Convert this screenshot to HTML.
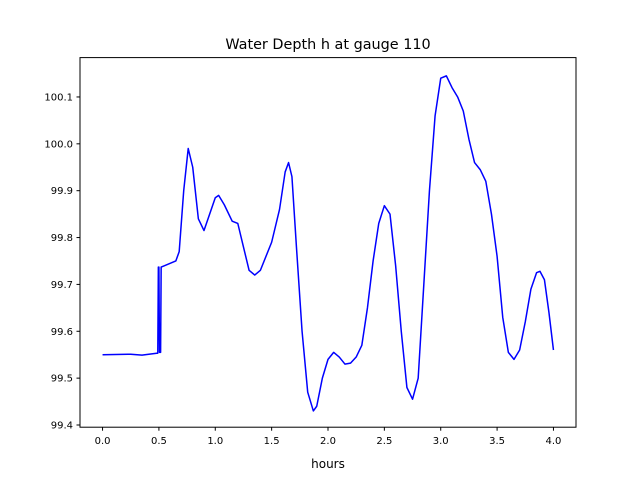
<!DOCTYPE html>
<html><head><meta charset="utf-8"><style>
body{margin:0;background:#fff;}
svg{display:block;font-family:"DejaVu Sans","Liberation Sans",sans-serif;}
</style></head><body>
<svg id="chart" width="640" height="480" viewBox="0 0 640 480">
<rect width="640" height="480" fill="#fff"/>
<text x="328" y="49" font-size="14.4" text-anchor="middle">Water Depth h at gauge 110</text>
<g id="plot"></g>
<rect x="80" y="57.6" width="496" height="369.6" fill="none" stroke="#000" stroke-width="1"/>
<text x="328" y="468" font-size="12" text-anchor="middle">hours</text>
</svg>
<script>
const hours=[0,0.25,0.35,0.48,0.49,0.495,0.50,0.505,0.515,0.52,0.55,0.65,0.68,0.72,0.76,0.8,0.85,0.9,0.95,1.0,1.03,1.08,1.15,1.2,1.25,1.3,1.35,1.4,1.5,1.57,1.62,1.65,1.68,1.72,1.77,1.82,1.87,1.9,1.95,2.0,2.05,2.1,2.15,2.2,2.25,2.3,2.35,2.4,2.45,2.5,2.55,2.6,2.65,2.7,2.75,2.8,2.85,2.9,2.95,3.0,3.05,3.1,3.15,3.2,3.25,3.3,3.35,3.4,3.45,3.5,3.55,3.6,3.65,3.7,3.75,3.8,3.85,3.88,3.92,3.96,4.0];
const depth=[99.55,99.551,99.549,99.553,99.553,99.737,99.737,99.555,99.555,99.737,99.74,99.75,99.77,99.9,99.99,99.95,99.84,99.815,99.85,99.885,99.89,99.87,99.835,99.83,99.78,99.73,99.72,99.73,99.79,99.86,99.94,99.96,99.93,99.78,99.6,99.47,99.43,99.44,99.5,99.54,99.555,99.545,99.53,99.532,99.545,99.57,99.65,99.75,99.83,99.868,99.85,99.74,99.6,99.48,99.455,99.5,99.7,99.9,100.06,100.14,100.145,100.12,100.1,100.07,100.01,99.96,99.945,99.92,99.85,99.76,99.63,99.555,99.54,99.56,99.62,99.69,99.725,99.728,99.71,99.64,99.56];
const xTicks=[0,0.5,1,1.5,2,2.5,3,3.5,4];
const xTickLabels=["0.0","0.5","1.0","1.5","2.0","2.5","3.0","3.5","4.0"];
const yTicks=[99.4,99.5,99.6,99.7,99.8,99.9,100.0,100.1];
const yTickLabels=["99.4","99.5","99.6","99.7","99.8","99.9","100.0","100.1"];
const NS="http://www.w3.org/2000/svg";
const L=80,R=576,T=57.6,B=427.2;
const xMin=-0.2,xMax=4.2,yMin=99.3953,yMax=100.184;
const sx=v=>L+(v-xMin)/(xMax-xMin)*(R-L);
const sy=v=>B-(v-yMin)/(yMax-yMin)*(B-T);
const g=document.getElementById('plot');
function mk(t,a){const e=document.createElementNS(NS,t);for(const k in a)e.setAttribute(k,a[k]);g.appendChild(e);return e;}
xTicks.forEach((v,i)=>{
 const l=mk('line',{x1:sx(v),x2:sx(v),y1:B,y2:B+3.5,stroke:'#000'});
 
 
 const t=mk('text',{x:sx(v),y:B+17,'font-size':10,'text-anchor':'middle'});
 t.textContent=xTickLabels[i];
 
 
});
yTicks.forEach((v,i)=>{
 const l=mk('line',{x1:L-3.5,x2:L,y1:sy(v),y2:sy(v),stroke:'#000'});
 
 
 const t=mk('text',{x:L-7,y:sy(v)+3.5,'font-size':10,'text-anchor':'end'});
 t.textContent=yTickLabels[i];
 
 
});
const pts=hours.map((h,i)=>sx(h).toFixed(2)+','+sy(depth[i]).toFixed(2)).join(' ');
const p=mk('polyline',{points:pts,fill:'none',stroke:'#0000ff','stroke-width':1.5,'stroke-linejoin':'round'});


</script>
</body></html>
